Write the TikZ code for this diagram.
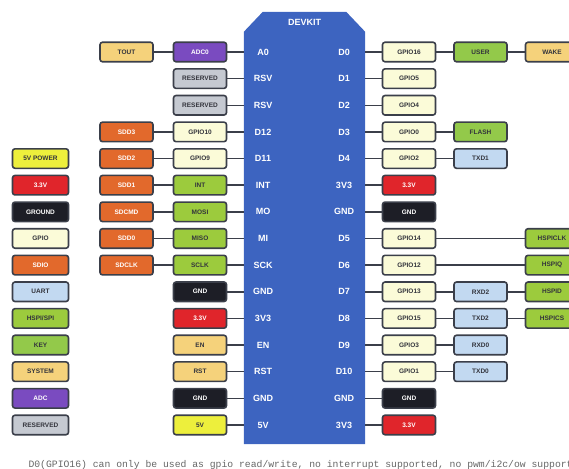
\documentclass[tikz,border=0pt]{standalone}
\usepackage{fontspec}
\setmainfont{Liberation Sans}
\setmonofont{Liberation Mono}
\usepackage{tikz}
\definecolor{boardblue}{HTML}{3D64C0}
\definecolor{edge}{HTML}{3B3F4A}
\definecolor{ink}{HTML}{33343C}
\definecolor{pwrfive}{HTML}{EDEF3C}
\definecolor{pwrthree}{HTML}{E0252B}
\definecolor{gndblack}{HTML}{1D1E26}
\definecolor{gpiocream}{HTML}{FBFBD8}
\definecolor{sdioorange}{HTML}{E2692C}
\definecolor{uartblue}{HTML}{C2D9F1}
\definecolor{spigreen}{HTML}{9CCB3D}
\definecolor{keygreen}{HTML}{93C94A}
\definecolor{sysamber}{HTML}{F5D27B}
\definecolor{adcpurple}{HTML}{7A4BC0}
\definecolor{rsvgrey}{HTML}{C5C9D1}

\begin{document}
\begin{tikzpicture}[
x=1pt,y=-26.64pt,
board/.style={rectangle,inner sep=0pt,minimum width=121pt,minimum height=432pt},
pin/.style={text=white,font=\fontsize{9}{10}\selectfont\bfseries},
box/.style={draw=edge,line width=1.6pt,rounded corners=2.5pt,inner sep=0pt,
minimum width=53pt,minimum height=19.5pt,text=ink,
font=\fontsize{6.5}{7}\selectfont\bfseries},
legend/.style={minimum width=56pt},
vfive/.style={box,fill=pwrfive},
vthree/.style={box,fill=pwrthree,text=white},
gnd/.style={box,fill=gndblack,text=white},
gpio/.style={box,fill=gpiocream},
sdio/.style={box,fill=sdioorange,text=white},
uart/.style={box,fill=uartblue},
spi/.style={box,fill=spigreen},
keybox/.style={box,fill=keygreen},
sys/.style={box,fill=sysamber},
adc/.style={box,fill=adcpurple,text=white},
rsv/.style={box,fill=rsvgrey},
wire/.style={draw=edge,line width=1.5pt},
foot/.style={text=black!60,font=\ttfamily\fontsize{9.75}{10}\selectfont}
]
\useasboundingbox (0,-1.952) rectangle (569,15.653);

\node[board] (board) at (304.5,6.607) {};
\fill[boardblue] (board.south west) -- ([yshift=-20pt]board.north west)
  -- ([xshift=19pt]board.north west) -- ([xshift=-19pt]board.north east)
  -- ([yshift=-20pt]board.north east) -- (board.south east) -- cycle;
\node[pin] (title) at (304.5,-1.126) {DEVKIT};

% left header
\node[pin] (a0)    at (263,0)  {A0};
\node[pin] (rsv1)  at (263,1)  {RSV};
\node[pin] (rsv2)  at (263,2)  {RSV};
\node[pin] (d12)   at (263,3)  {D12};
\node[pin] (d11)   at (263,4)  {D11};
\node[pin] (int)   at (263,5)  {INT};
\node[pin] (mo)    at (263,6)  {MO};
\node[pin] (mi)    at (263,7)  {MI};
\node[pin] (sck)   at (263,8)  {SCK};
\node[pin] (gndl1) at (263,9)  {GND};
\node[pin] (vl1)   at (263,10) {3V3};
\node[pin] (en)    at (263,11) {EN};
\node[pin] (rst)   at (263,12) {RST};
\node[pin] (gndl2) at (263,13) {GND};
\node[pin] (vfive) at (263,14) {5V};

\node[adc]    (adczero) at (200,0)  {ADC0};
\node[rsv]    (rsvbox1) at (200,1)  {RESERVED};
\node[rsv]    (rsvbox2) at (200,2)  {RESERVED};
\node[gpio]   (gpio10)  at (200,3)  {GPIO10};
\node[gpio]   (gpio9)   at (200,4)  {GPIO9};
\node[spi]    (intbox)  at (200,5)  {INT};
\node[spi]    (mosi)    at (200,6)  {MOSI};
\node[spi]    (miso)    at (200,7)  {MISO};
\node[spi]    (sclk)    at (200,8)  {SCLK};
\node[gnd]    (gndbox1) at (200,9)  {GND};
\node[vthree] (vbox1)   at (200,10) {3.3V};
\node[sys]    (enbox)   at (200,11) {EN};
\node[sys]    (rstbox)  at (200,12) {RST};
\node[gnd]    (gndbox2) at (200,13) {GND};
\node[vfive]  (fivebox) at (200,14) {5V};

\node[sys]  (tout)  at (126.5,0) {TOUT};
\node[sdio] (sdd3)  at (126.5,3) {SDD3};
\node[sdio] (sdd2)  at (126.5,4) {SDD2};
\node[sdio] (sdd1)  at (126.5,5) {SDD1};
\node[sdio] (sdcmd) at (126.5,6) {SDCMD};
\node[sdio] (sdd0)  at (126.5,7) {SDD0};
\node[sdio] (sdclk) at (126.5,8) {SDCLK};

% legend
\node[vfive,legend]  (lgfive)   at (40.5,4)  {5V POWER};
\node[vthree,legend] (lgthree)  at (40.5,5)  {3.3V};
\node[gnd,legend]    (lgground) at (40.5,6)  {GROUND};
\node[gpio,legend]   (lggpio)   at (40.5,7)  {GPIO};
\node[sdio,legend]   (lgsdio)   at (40.5,8)  {SDIO};
\node[uart,legend]   (lguart)   at (40.5,9)  {UART};
\node[spi,legend]    (lgspi)    at (40.5,10) {HSPI/SPI};
\node[keybox,legend] (lgkey)    at (40.5,11) {KEY};
\node[sys,legend]    (lgsys)    at (40.5,12) {SYSTEM};
\node[adc,legend]    (lgadc)    at (40.5,13) {ADC};
\node[rsv,legend]    (lgrsv)    at (40.5,14) {RESERVED};

% right header
\node[pin] (d0)    at (344,0)  {D0};
\node[pin] (d1)    at (344,1)  {D1};
\node[pin] (d2)    at (344,2)  {D2};
\node[pin] (d3)    at (344,3)  {D3};
\node[pin] (d4)    at (344,4)  {D4};
\node[pin] (vr1)   at (344,5)  {3V3};
\node[pin] (gndr1) at (344,6)  {GND};
\node[pin] (d5)    at (344,7)  {D5};
\node[pin] (d6)    at (344,8)  {D6};
\node[pin] (d7)    at (344,9)  {D7};
\node[pin] (d8)    at (344,10) {D8};
\node[pin] (d9)    at (344,11) {D9};
\node[pin] (d10)   at (344,12) {D10};
\node[pin] (gndr2) at (344,13) {GND};
\node[pin] (vr2)   at (344,14) {3V3};

\node[gpio]   (gpio16)  at (409,0)  {GPIO16};
\node[gpio]   (gpio5)   at (409,1)  {GPIO5};
\node[gpio]   (gpio4)   at (409,2)  {GPIO4};
\node[gpio]   (gpio0)   at (409,3)  {GPIO0};
\node[gpio]   (gpio2)   at (409,4)  {GPIO2};
\node[vthree] (vbox2)   at (409,5)  {3.3V};
\node[gnd]    (gndbox3) at (409,6)  {GND};
\node[gpio]   (gpio14)  at (409,7)  {GPIO14};
\node[gpio]   (gpio12)  at (409,8)  {GPIO12};
\node[gpio]   (gpio13)  at (409,9)  {GPIO13};
\node[gpio]   (gpio15)  at (409,10) {GPIO15};
\node[gpio]   (gpio3)   at (409,11) {GPIO3};
\node[gpio]   (gpio1)   at (409,12) {GPIO1};
\node[gnd]    (gndbox4) at (409,13) {GND};
\node[vthree] (vbox3)   at (409,14) {3.3V};

\node[keybox] (user)  at (480.5,0)  {USER};
\node[keybox] (flash) at (480.5,3)  {FLASH};
\node[uart]   (txd1)  at (480.5,4)  {TXD1};
\node[uart]   (rxd2)  at (480.5,9)  {RXD2};
\node[uart]   (txd2)  at (480.5,10) {TXD2};
\node[uart]   (rxd0)  at (480.5,11) {RXD0};
\node[uart]   (txd0)  at (480.5,12) {TXD0};

\node[sys] (wake)    at (552,0)  {WAKE};
\node[spi] (hspiclk) at (552,7)  {HSPICLK};
\node[spi] (hspiq)   at (552,8)  {HSPIQ};
\node[spi] (hspid)   at (552,9)  {HSPID};
\node[spi] (hspics)  at (552,10) {HSPICS};

% left wires
\draw[wire] (tout) -- (adczero);
\draw[wire] (sdd3) -- (gpio10);
\draw[wire] (sdd2) -- (gpio9);
\draw[wire] (sdd1) -- (intbox);
\draw[wire] (sdcmd) -- (mosi);
\draw[wire] (sdd0) -- (miso);
\draw[wire] (sdclk) -- (sclk);
\draw[wire] (adczero) -- (adczero -| board.west);
\draw[wire] (rsvbox1) -- (rsvbox1 -| board.west);
\draw[wire] (rsvbox2) -- (rsvbox2 -| board.west);
\draw[wire] (gpio10) -- (gpio10 -| board.west);
\draw[wire] (gpio9) -- (gpio9 -| board.west);
\draw[wire] (intbox) -- (intbox -| board.west);
\draw[wire] (mosi) -- (mosi -| board.west);
\draw[wire] (miso) -- (miso -| board.west);
\draw[wire] (sclk) -- (sclk -| board.west);
\draw[wire] (gndbox1) -- (gndbox1 -| board.west);
\draw[wire] (vbox1) -- (vbox1 -| board.west);
\draw[wire] (enbox) -- (enbox -| board.west);
\draw[wire] (rstbox) -- (rstbox -| board.west);
\draw[wire] (gndbox2) -- (gndbox2 -| board.west);
\draw[wire] (fivebox) -- (fivebox -| board.west);

% right wires
\draw[wire] (gpio16 -| board.east) -- (gpio16);
\draw[wire] (gpio5 -| board.east) -- (gpio5);
\draw[wire] (gpio4 -| board.east) -- (gpio4);
\draw[wire] (gpio0 -| board.east) -- (gpio0);
\draw[wire] (gpio2 -| board.east) -- (gpio2);
\draw[wire] (vbox2 -| board.east) -- (vbox2);
\draw[wire] (gndbox3 -| board.east) -- (gndbox3);
\draw[wire] (gpio14 -| board.east) -- (gpio14);
\draw[wire] (gpio12 -| board.east) -- (gpio12);
\draw[wire] (gpio13 -| board.east) -- (gpio13);
\draw[wire] (gpio15 -| board.east) -- (gpio15);
\draw[wire] (gpio3 -| board.east) -- (gpio3);
\draw[wire] (gpio1 -| board.east) -- (gpio1);
\draw[wire] (gndbox4 -| board.east) -- (gndbox4);
\draw[wire] (vbox3 -| board.east) -- (vbox3);
\draw[wire] (gpio16) -- (user);
\draw[wire] (user) -- (wake);
\draw[wire] (gpio0) -- (flash);
\draw[wire] (gpio2) -- (txd1);
\draw[wire] (gpio14) -- (hspiclk);
\draw[wire] (gpio12) -- (hspiq);
\draw[wire] (gpio13) -- (rxd2);
\draw[wire] (rxd2) -- (hspid);
\draw[wire] (gpio15) -- (txd2);
\draw[wire] (txd2) -- (hspics);
\draw[wire] (gpio3) -- (rxd0);
\draw[wire] (gpio1) -- (txd0);

\node[foot,anchor=west] (footnote) at (25,15.5)
{D0(GPIO16) can only be used as gpio read/write, no interrupt supported, no pwm/i2c/ow supported.};
\end{tikzpicture}
\end{document}
